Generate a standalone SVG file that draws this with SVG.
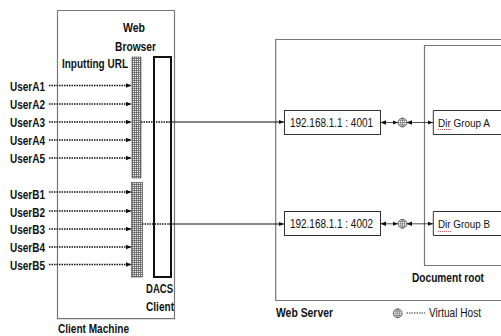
<svg xmlns="http://www.w3.org/2000/svg" width="501" height="336" viewBox="0 0 501 336">
<defs>
<pattern id="grid" width="2" height="2" patternUnits="userSpaceOnUse"><rect width="2" height="2" fill="#eee"/><path d="M0 0.5H2M0.5 0V2" stroke="#555" stroke-width="0.7"/></pattern>
<marker id="arr" markerUnits="userSpaceOnUse" markerWidth="6" markerHeight="5" refX="5.5" refY="2.5" orient="auto"><path d="M0 0.3L5.5 2.5L0 4.7Z" fill="#111"/></marker>
<marker id="arrs" markerUnits="userSpaceOnUse" markerWidth="6" markerHeight="5" refX="0.5" refY="2.5" orient="auto"><path d="M5.5 0.3L0 2.5L5.5 4.700Z" fill="#111"/></marker>
<g id="globe"><circle cx="0" cy="0" r="4.4" fill="#fff" stroke="#333" stroke-width="0.7"/><ellipse cx="0" cy="0" rx="2" ry="4.4" fill="none" stroke="#444" stroke-width="0.5"/><path d="M-4.400 0H4.400M-3.900 -2.200H3.900M-3.900 2.200H3.900M0 -4.400V4.400" stroke="#444" stroke-width="0.5"/></g>
</defs>
<style>
text{font-family:"Liberation Sans",Arial,sans-serif;fill:#111}
.b{font-weight:bold;font-size:12px}
.r{font-size:12.5px}
.d{font-size:11.5px}
.box{fill:#fff;stroke:#333;stroke-width:1}
.gray{fill:none;stroke:#777;stroke-width:1.2}
.dot{fill:none;stroke:#111;stroke-width:1.5;stroke-dasharray:1.5 1}
.sol{fill:none;stroke:#111;stroke-width:1.2}
.thin{fill:none;stroke:#222;stroke-width:0.8}
</style>
<g id="client-machine"><path class="gray" d="M57.500 10.500H174.500V318.700H57.500Z"/><text class="b" x="123" y="31.500" textLength="22" lengthAdjust="spacingAndGlyphs">Web</text><text class="b" x="115" y="50.500" textLength="41" lengthAdjust="spacingAndGlyphs">Browser</text><text class="b" x="62" y="68" textLength="66" lengthAdjust="spacingAndGlyphs">Inputting URL</text><text class="b" x="58" y="333" textLength="71" lengthAdjust="spacingAndGlyphs">Client Machine</text></g>
<g id="browser-a"><rect x="132" y="57" width="9" height="121" fill="url(#grid)" stroke="#444" stroke-width="0.6"/></g>
<g id="browser-b"><rect x="131.500" y="182.500" width="11" height="94.500" fill="url(#grid)" stroke="#444" stroke-width="0.6"/></g>
<g id="dacs-client"><rect x="154" y="57" width="17" height="220" fill="#fff" stroke="#111" stroke-width="2"/><text class="b" x="146" y="293" textLength="27" lengthAdjust="spacingAndGlyphs">DACS</text><text class="b" x="146" y="311" textLength="28" lengthAdjust="spacingAndGlyphs">Client</text></g>
<g id="users-a"><text class="b" x="10" y="91" textLength="35" lengthAdjust="spacingAndGlyphs">UserA1</text><text class="b" x="10" y="109" textLength="35" lengthAdjust="spacingAndGlyphs">UserA2</text><text class="b" x="10" y="127" textLength="35" lengthAdjust="spacingAndGlyphs">UserA3</text><text class="b" x="10" y="145" textLength="35" lengthAdjust="spacingAndGlyphs">UserA4</text><text class="b" x="10" y="163" textLength="35" lengthAdjust="spacingAndGlyphs">UserA5</text></g>
<g id="users-b"><text class="b" x="10" y="198.500" textLength="35" lengthAdjust="spacingAndGlyphs">UserB1</text><text class="b" x="10" y="217" textLength="35" lengthAdjust="spacingAndGlyphs">UserB2</text><text class="b" x="10" y="234" textLength="35" lengthAdjust="spacingAndGlyphs">UserB3</text><text class="b" x="10" y="252" textLength="35" lengthAdjust="spacingAndGlyphs">UserB4</text><text class="b" x="10" y="270" textLength="35" lengthAdjust="spacingAndGlyphs">UserB5</text></g>
<g id="web-server"><path d="M501 39.500H275.700V300.500H501" class="gray"/><text class="b" x="276" y="317" textLength="57" lengthAdjust="spacingAndGlyphs">Web Server</text></g>
<g id="document-root"><path d="M501 45.500H424.500V265.500H501" class="gray"/><text class="b" x="412" y="282" textLength="72" lengthAdjust="spacingAndGlyphs">Document root</text></g>
<g id="port-4001"><rect class="box" x="284.500" y="110.500" width="96" height="24"/><text class="r" x="290" y="126.500" textLength="83" lengthAdjust="spacingAndGlyphs">192.168.1.1 : 4001</text></g>
<g id="port-4002"><rect class="box" x="284.500" y="211.500" width="96" height="24"/><text class="r" x="290" y="228" textLength="83" lengthAdjust="spacingAndGlyphs">192.168.1.1 : 4002</text></g>
<g id="dir-a"><path class="box" d="M501 110.500H433.300V134.500H501"/><text class="d" x="438" y="126.500" textLength="52" lengthAdjust="spacingAndGlyphs">Dir Group A</text><path d="M438 129.500h13" stroke="#d33" stroke-width="0.8" stroke-dasharray="1 1"/></g>
<g id="dir-b"><path class="box" d="M501 211.500H433.300V235.500H501"/><text class="d" x="438" y="228" textLength="52" lengthAdjust="spacingAndGlyphs">Dir Group B</text><path d="M438 231.500h13" stroke="#d33" stroke-width="0.8" stroke-dasharray="1 1"/></g>
<g id="virtual-host-a"><use href="#globe" x="402.500" y="122.500"/></g>
<g id="virtual-host-b"><use href="#globe" x="402.500" y="223.800"/></g>
<g id="legend"><use href="#globe" x="397.700" y="313.300"/><path d="M406.500 313H425" stroke="#333" stroke-width="1" stroke-dasharray="1.500 1" fill="none"/><text class="r" x="429" y="317" textLength="52" lengthAdjust="spacingAndGlyphs">Virtual Host</text></g>
<g id="connectors">
<path class="dot" d="M49 85.500H131.500" marker-end="url(#arr)"/><path class="dot" d="M49 104H131.500" marker-end="url(#arr)"/><path class="dot" d="M49 122H131.500" marker-end="url(#arr)"/><path class="dot" d="M49 140H131.500" marker-end="url(#arr)"/><path class="dot" d="M49 158H131.500" marker-end="url(#arr)"/>
<path class="dot" d="M49 192H131.500" marker-end="url(#arr)"/><path class="dot" d="M49 211H131.500" marker-end="url(#arr)"/><path class="dot" d="M49 229H131.500" marker-end="url(#arr)"/><path class="dot" d="M49 247H131.500" marker-end="url(#arr)"/><path class="dot" d="M49 264.500H131.500" marker-end="url(#arr)"/>
<path class="dot" d="M141 122H167"/><path class="sol" d="M167 122H284" marker-end="url(#arr)"/>
<path class="dot" d="M142 224H167"/><path class="sol" d="M167 224H284" marker-end="url(#arr)"/>
<path class="thin" d="M381 122.500H398" marker-start="url(#arrs)" marker-end="url(#arr)"/><path class="thin" d="M407 122.500H433" marker-start="url(#arrs)" marker-end="url(#arr)"/>
<path class="thin" d="M381 223.800H398" marker-start="url(#arrs)" marker-end="url(#arr)"/><path class="thin" d="M407 223.800H433" marker-start="url(#arrs)" marker-end="url(#arr)"/>
</g>
</svg>
